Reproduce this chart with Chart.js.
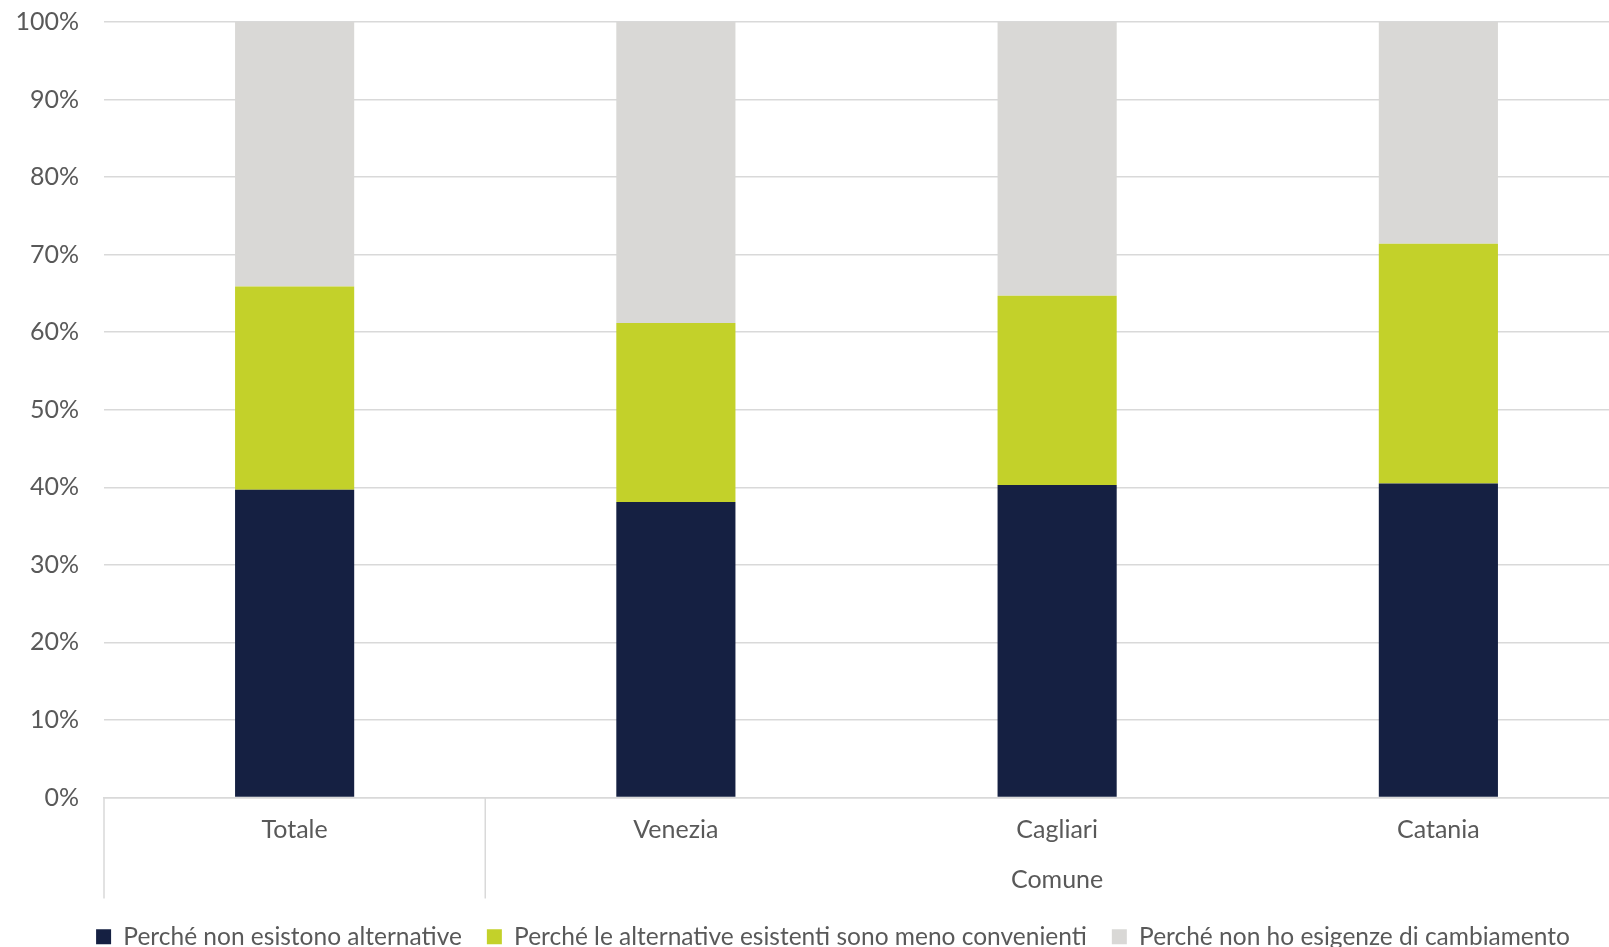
<!DOCTYPE html>
<html>
<head>
<meta charset="utf-8">
<script src="https://cdn.jsdelivr.net/npm/chart.js@4/dist/chart.umd.min.js"></script>
<style>
  html, body { margin: 0; padding: 0; background: #ffffff; overflow: hidden; }
  #wrap { position: relative; width: 1666px; height: 959px; }
</style>
</head>
<body>
<div id="wrap"><canvas id="c"></canvas></div>
<script>
const categories = ['Totale', 'Venezia', 'Cagliari', 'Catania'];
const groupLabels = ['', 'Comune'];
const groupSpans = [1, 3];
const seriesNames = [
  'Perché non esistono alternative',
  'Perché le alternative esistenti sono meno convenienti',
  'Perché non ho esigenze di cambiamento'
];
const nonEsistono = [39.7, 38.1, 40.3, 40.5];
const menoConvenienti = [26.2, 23.1, 24.4, 30.9];
const nessunaEsigenza = [34.1, 38.8, 35.3, 28.6];
const yTicks = [0, 10, 20, 30, 40, 50, 60, 70, 80, 90, 100];

const colors = ['#152042', '#c3d12a', '#d9d8d6'];
const textColor = '#595959';
const gridColor = '#d9d9d9';
const fontFamily = 'Lato, "Open Sans", sans-serif';
const fontSize = 25;

// Two-line labels: category on first line, group label centered on middle category of its span
const labels = categories.map(c => [c, '']);
let start = 0;
groupSpans.forEach((span, g) => {
  const mid = start + Math.floor(span / 2);
  labels[mid][1] = groupLabels[g];
  start += span;
});

const groupSeparators = {
  id: 'groupSeparators',
  afterLayout(chart) {
    // let y tick labels extend left of the axis box without being clipped
    chart.scales.y.left = 0;
  },
  afterDraw(chart) {
    const xs = chart.scales.x;
    const ctx = chart.ctx;
    const half = (xs.getPixelForTick(1) - xs.getPixelForTick(0)) / 2;
    const bounds = [xs.getPixelForTick(0) - half];
    let idx = 0;
    groupSpans.forEach(span => {
      idx += span;
      bounds.push(xs.getPixelForTick(idx - 1) + half);
    });
    ctx.save();
    ctx.strokeStyle = gridColor;
    ctx.lineWidth = 1.5;
    bounds.forEach(x => {
      ctx.beginPath();
      ctx.moveTo(x, xs.top);
      ctx.lineTo(x, xs.top + 101);
      ctx.stroke();
    });
    ctx.restore();
  }
};

new Chart(document.getElementById('c'), {
  type: 'bar',
  data: {
    labels: labels,
    datasets: [
      { label: seriesNames[0], data: nonEsistono, backgroundColor: colors[0] },
      { label: seriesNames[1], data: menoConvenienti, backgroundColor: colors[1] },
      { label: seriesNames[2], data: nessunaEsigenza, backgroundColor: colors[2] }
    ]
  },
  options: {
    responsive: true,
    maintainAspectRatio: false,
    animation: false,
    devicePixelRatio: 1,
    layout: { padding: { left: 37, right: 37, top: 22, bottom: 0 } },
    datasets: { bar: { categoryPercentage: 1.0, barPercentage: 0.3125, borderWidth: 0 } },
    plugins: {
      tooltip: { enabled: false },
      legend: {
        position: 'bottom',
        labels: {
          boxWidth: 15,
          boxHeight: 15,
          padding: 25,
          color: textColor,
          font: { family: fontFamily, size: 24.5 }
        }
      }
    },
    scales: {
      x: {
        stacked: true,
        grid: { display: false, drawTicks: false },
        border: { display: true, color: gridColor, width: 1.5 },
        ticks: {
          autoSkip: false,
          maxRotation: 0,
          padding: 7,
          color: textColor,
          font: { family: fontFamily, size: fontSize, lineHeight: 50 / fontSize }
        },
        afterFit(scale) { scale.height = 102; }
      },
      y: {
        stacked: true,
        min: 0,
        max: 100,
        afterBuildTicks(scale) { scale.ticks = yTicks.map(v => ({ value: v })); },
        grid: { color: gridColor, lineWidth: 1.5, drawTicks: false },
        border: { display: false },
        ticks: {
          padding: 25,
          color: textColor,
          font: { family: fontFamily, size: fontSize },
          callback: v => v + '%'
        },
        afterFit(scale) {
          scale.width = 67;
          scale.paddingTop = 0;
          scale.paddingBottom = 0;
        }
      }
    }
  },
  plugins: [groupSeparators]
});
</script>
</body>
</html>
